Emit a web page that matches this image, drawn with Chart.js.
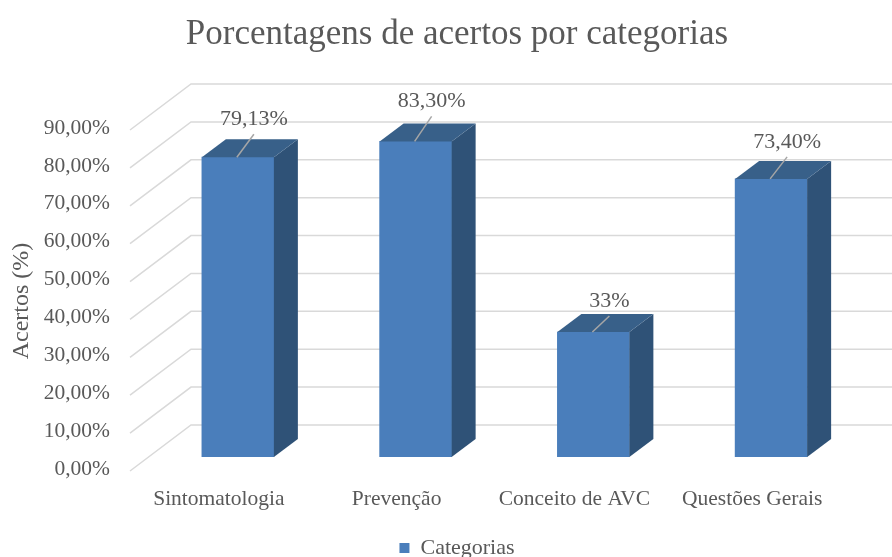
<!DOCTYPE html>
<html lang="en">
<head>
  <meta charset="UTF-8">
  <title>Porcentagens de acertos por categorias</title>
  <script src="https://cdn.jsdelivr.net/npm/chart.js"></script>
  <style>
    body { margin: 0; background: #fff; }
    #wrap { position: relative; width: 892px; height: 557px; }
  </style>
</head>
<body>
  <div id="wrap"><canvas id="chart" width="892" height="557"></canvas></div>
  <script>
    // Data
    const categories = ['Sintomatologia', 'Prevenção', 'Conceito de AVC', 'Questões Gerais'];
    const acertos = [79.13, 83.30, 33, 73.40];
    const valueLabels = ['79,13%', '83,30%', '33%', '73,40%'];
    const yTicks = ['0,00%', '10,00%', '20,00%', '30,00%', '40,00%', '50,00%', '60,00%', '70,00%', '80,00%', '90,00%'];

    const labelLift = [38, 40, 31, 37];   // px above the bar top, differs per label in the original

    const serif = '"Liberation Serif", serif';
    const textColor = '#595959';
    const gridColor = '#d9d9d9';

    // fake 3D: how far back the bar goes
    const depthX = 24, depthY = 18;

    function poly(ctx, pts, fill) {
      ctx.beginPath();
      pts.forEach((p, i) => i ? ctx.lineTo(p[0], p[1]) : ctx.moveTo(p[0], p[1]));
      ctx.closePath();
      ctx.fillStyle = fill;
      ctx.fill();
    }

    const fake3d = {
      id: 'fake3d',
      afterLayout(chart) {
        // tick labels are clipped to the scale box, let them run left of it
        chart.scales.y.left = 0;
      },
      beforeDatasetsDraw(chart) {
        const { ctx, scales: { y } } = chart;
        ctx.save();
        ctx.strokeStyle = gridColor;
        ctx.lineWidth = 1.5;
        yTicks.forEach((t, i) => {
          const py = y.getPixelForValue(i * 10);
          ctx.beginPath();
          ctx.moveTo(130, py + 14);
          ctx.lineTo(191, py - 32);
          ctx.lineTo(892, py - 32);
          ctx.stroke();
        });
        ctx.restore();
      },
      afterDatasetsDraw(chart) {
        const { ctx } = chart;
        const bars = chart.getDatasetMeta(0).data;
        ctx.save();
        bars.forEach((bar, i) => {
          const l = bar.x - bar.width / 2, r = bar.x + bar.width / 2;
          poly(ctx, [[r, bar.y], [r + depthX, bar.y - depthY], [r + depthX, bar.base - depthY], [r, bar.base]], '#2f5277');
          poly(ctx, [[l, bar.y], [l + depthX, bar.y - depthY], [r + depthX, bar.y - depthY], [r, bar.y]], '#386089');
          // leader line + value label
          ctx.strokeStyle = '#a6a6a6';
          ctx.lineWidth = 1.5;
          ctx.beginPath();
          ctx.moveTo(bar.x - 1, bar.y);
          ctx.lineTo(bar.x + 16, bar.y - labelLift[i] + 15);
          ctx.stroke();
          ctx.fillStyle = textColor;
          ctx.font = '22px ' + serif;
          ctx.textAlign = 'center';
          ctx.textBaseline = 'middle';
          ctx.fillText(valueLabels[i], bar.x + 16, bar.y - labelLift[i]);
        });
        // axis title sits lower than the scale centre in the original
        ctx.translate(22, 301);
        ctx.rotate(-Math.PI / 2);
        ctx.fillStyle = textColor;
        ctx.font = '24px ' + serif;
        ctx.textAlign = 'center';
        ctx.textBaseline = 'middle';
        ctx.fillText('Acertos (%)', 0, 0);
        ctx.restore();
      }
    };

    new Chart(document.getElementById('chart'), {
      type: 'bar',
      data: {
        labels: categories,
        datasets: [{
          label: 'Categorias',
          data: acertos,
          backgroundColor: '#4a7ebb',
          barThickness: 72
        }]
      },
      options: {
        responsive: false,
        animation: false,
        layout: { padding: { left: 54, right: 32, top: 0, bottom: -12 } },
        plugins: {
          tooltip: { enabled: false },
          title: {
            display: true,
            text: 'Porcentagens de acertos por categorias',
            color: textColor,
            font: { family: serif, size: 35, weight: 'normal' },
            padding: { top: 14, bottom: 60 }
          },
          legend: {
            position: 'bottom',
            labels: {
              color: textColor,
              font: { family: serif, size: 22 },
              boxWidth: 10,
              boxHeight: 10,
              padding: 0
            }
          }
        },
        scales: {
          x: {
            afterFit: (s) => { s.height = 80; },
            grid: { display: false, drawTicks: false },
            border: { display: false },
            ticks: {
              color: textColor,
              font: { family: serif, size: 21.5 },
              labelOffset: -19,
              padding: 29,
              maxRotation: 0,
              autoSkip: false
            }
          },
          y: {
            min: 0,
            max: 90,
            afterFit: (s) => { s.width = 95; },
            grid: { display: false, drawTicks: false },
            border: { display: false },
            ticks: {
              stepSize: 10,
              color: textColor,
              font: { family: serif, size: 21.5 },
              labelOffset: 12,
              padding: 39,
              callback: (v) => yTicks[v / 10]
            }
          }
        }
      },
      plugins: [fake3d]
    });
  </script>
</body>
</html>
